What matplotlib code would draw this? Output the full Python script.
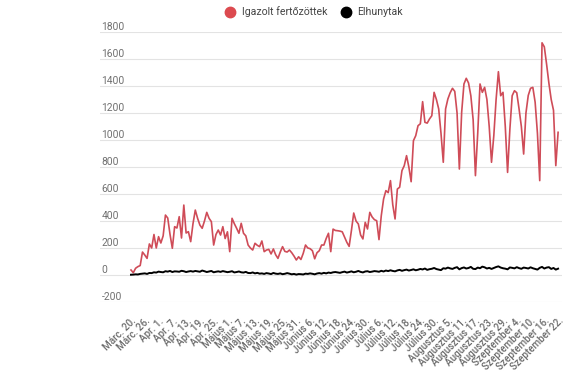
import numpy as np
import matplotlib
matplotlib.use('Agg')
from matplotlib import pyplot as plt
from matplotlib.lines import Line2D

# daily values, 2020 Mar 20 .. Sep 22
cases = [
    37, 17, 50, 62, 70, 170, 148, 123, 230, 200,
    300, 200, 284, 237, 290, 444, 422, 300, 198, 358,
    348, 432, 274, 518, 311, 321, 247, 380, 481, 420,
    370, 346, 400, 464, 420, 395, 222, 300, 333, 296,
    358, 270, 320, 173, 420, 380, 346, 309, 383, 309,
    290, 222, 200, 185, 235, 220, 210, 252, 173, 185,
    190, 156, 193, 150, 123, 170, 210, 175, 170, 185,
    165, 140, 111, 135, 115, 160, 222, 200, 195, 180,
    120, 165, 180, 222, 222, 270, 309, 173, 340, 330,
    328, 325, 320, 280, 242, 212, 330, 459, 400, 378,
    296, 267, 390, 341, 464, 430, 410, 402, 262, 440,
    563, 625, 610, 699, 520, 415, 637, 650, 773, 810,
    884, 800, 691, 995, 1032, 1106, 1120, 1284, 1131, 1125,
    1156, 1180, 1353, 1300, 1230, 1050, 835, 1230, 1304, 1350,
    1383, 1360, 1200, 785, 1205, 1415, 1457, 1422, 1328, 1150,
    736, 1050, 1415, 1353, 1390, 1300, 1100, 835, 1032, 1300,
    1506, 1328, 1353, 1100, 760, 1080, 1328, 1365, 1350, 1230,
    1100, 896, 1200, 1330, 1383, 1390, 1280, 1050, 699, 1720,
    1690, 1560, 1420, 1300, 1220, 810, 1057,
]
deaths = [
    2, 3, 5, 4, 8, 10, 12, 8, 15, 14, 20, 18, 25, 22, 20,
    28, 25, 30, 22, 27, 26, 24, 31, 28, 22, 26, 29, 25, 30, 27,
    24, 33, 28, 22, 26, 30, 20, 24, 27, 23, 29, 25, 21, 24, 28,
    19, 22, 26, 20, 18, 23, 15, 14, 19, 12, 16, 10, 12, 8, 14,
    11, 7, 15, 10, 8, 12, 6, 9, 14, 10, 5, 8, 3, 7, 6,
    4, 10, 8, 12, 9, 5, 11, 14, 10, 16, 12, 18, 15, 20, 22,
    19, 16, 21, 25, 18, 22, 27, 20, 24, 30, 23, 19, 26, 28, 22,
    25, 29, 27, 24, 31, 26, 33, 29, 35, 30, 27, 34, 38, 31, 36,
    40, 33, 37, 42, 35, 39, 45, 41, 48, 38, 43, 46, 52, 44, 40,
    36, 50, 47, 55, 49, 45, 53, 58, 42, 51, 56, 48, 52, 60, 46,
    44, 55, 50, 62, 57, 48, 53, 45, 52, 59, 64, 55, 50, 47, 42,
    56, 53, 49, 58, 51, 46, 55, 52, 48, 57, 50, 45, 40, 53, 60,
    48, 55, 58, 45, 52, 40, 47,
]
tick_labels = [
    'Márc. 20.', 'Márc. 26.', 'Apr. 1.', 'Apr. 7.', 'Apr. 13.', 'Apr. 19.',
    'Apr. 25.', 'Május 1.', 'Május 7.', 'Május 13.', 'Május 19.',
    'Május 25.', 'Május 31.', 'Június 6.', 'Június 12.', 'Június 18.',
    'Június 24.', 'Június 30.', 'Július 6.', 'Július 12.', 'Július 18.',
    'Július 24.', 'Július 30.', 'Augusztus 5.', 'Augusztus 11.',
    'Augusztus 17.', 'Augusztus 23.', 'Augusztus 29.', 'Szeptember 4.',
    'Szeptember 10.', 'Szeptember 16.', 'Szeptember 22.',
]
y_ticks = [-200, 0, 200, 400, 600, 800, 1000, 1200, 1400, 1600, 1800]
series_names = ['Igazolt fertőzöttek', 'Elhunytak']

red = '#cf4c58'
plt.rcParams['font.family'] = ['Roboto', 'DejaVu Sans']

fig = plt.figure(figsize=(5.75, 3.87), dpi=100)
ax = fig.add_axes([100 / 575, 1 - 302 / 387, 462 / 575, 270 / 387])

days = np.arange(len(cases))
ax.plot(days, cases, color=red, lw=1.2, zorder=3)
ax.plot(days, deaths, color='black', lw=1.4, zorder=4)

# axes limits
ax.set_xlim(-13.5, 187.7)
ax.set_ylim(-200, 1800)

# y ticks: labels sit above the gridlines, left aligned
ax.set_yticks(y_ticks)
ax.set_yticklabels([str(v) for v in y_ticks])
ax.tick_params(axis='y', length=0, pad=-1, labelsize=7.4, labelcolor='#707070')
for lab in ax.get_yticklabels():
    lab.set_horizontalalignment('left')
    lab.set_verticalalignment('bottom')
ax.grid(axis='y', color='#e3e3e3', lw=0.8)
ax.set_axisbelow(True)

# x ticks: every 6th day, rotated
ax.set_xticks(days[::6])
ax.set_xticklabels(tick_labels, rotation=45, ha='right', va='top',
                   rotation_mode='anchor', fontweight='medium')
ax.tick_params(axis='x', length=0, pad=10, labelsize=7.1, labelcolor='#6a6a6a')

for s in ax.spines.values():
    s.set_visible(False)

# legend
handles = [Line2D([], [], ls='none', marker='o', ms=7.5, color='#dc4a4f'),
           Line2D([], [], ls='none', marker='o', ms=7.5, color='black')]
fig.legend(handles, series_names, loc='center', ncol=2,
           bbox_to_anchor=(314 / 575, 1 - 12 / 387), frameon=False,
           fontsize=7.6, labelcolor='#444444', handletextpad=0.6,
           columnspacing=1.2, handlelength=1.0)

fig.savefig('out.png', dpi=100)
